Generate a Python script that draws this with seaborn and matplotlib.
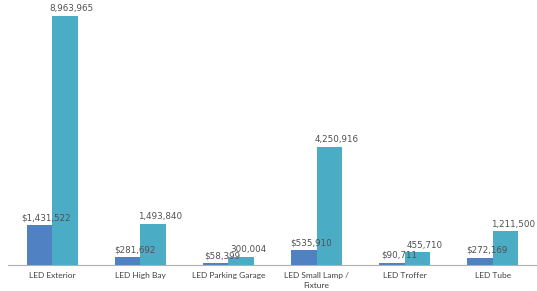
import matplotlib
matplotlib.use("Agg")
import matplotlib.pyplot as plt
import pandas as pd
import seaborn as sns
from matplotlib.ticker import FixedLocator

categories = ["LED Exterior", "LED High Bay", "LED Parking Garage",
              "LED Small Lamp /\nFixture", "LED Troffer", "LED Tube"]
cost = [1431522, 281692, 58399, 535910, 90711, 272169]
savings = [8963965, 1493840, 300004, 4250916, 455710, 1211500]
series = ["Cost", "Savings"]

df = pd.DataFrame({
    "category": categories * 2,
    "value": cost + savings,
    "series": [series[0]] * len(categories) + [series[1]] * len(categories),
})

sns.set_style("white")
plt.rcParams["font.family"] = ["Lato", "DejaVu Sans"]

fig = plt.figure(figsize=(5.37, 2.91), dpi=100)
ax = fig.add_axes([0.015, 0.089, 0.985, 0.911])

sns.barplot(data=df, x="category", y="value", hue="series",
            palette=["#5081C2", "#4BACC6"], width=0.58, ax=ax,
            legend=False, saturation=1, errorbar=None, linewidth=0)

ax.set_ylim(0, 9.54e6)
ax.set_xlim(-0.5, len(categories) - 0.5)
ax.set_xlabel("")
ax.set_ylabel("")
ax.set_yticks([])
for s in ["top", "right", "left"]:
    ax.spines[s].set_visible(False)
ax.spines["bottom"].set_color("#b0b0b0")
ax.spines["bottom"].set_linewidth(0.8)

ax.tick_params(axis="x", which="major", length=0, labelsize=6,
               labelcolor="#404040", pad=5)
for t in ax.get_xticklabels():
    t.set_linespacing(1.5)
ax.xaxis.set_minor_locator(FixedLocator([i - 0.5 for i in range(len(categories) + 1)]))
ax.tick_params(axis="x", which="minor", length=3, color="#b0b0b0", width=0.8)

for i, c in enumerate(ax.containers):
    if i == 0:
        labels = ["${:,}".format(v) for v in cost]
    else:
        labels = ["{:,}".format(v) for v in savings]
    for bar, lab in zip(c.patches, labels):
        ax.annotate(lab, (bar.get_x() + bar.get_width() / 2, bar.get_height()),
                    xytext=(5, 2), textcoords="offset points",
                    ha="center", va="bottom", fontsize=6.3,
                    color="#505050", family="DejaVu Sans")

fig.savefig("out.png", dpi=100)
